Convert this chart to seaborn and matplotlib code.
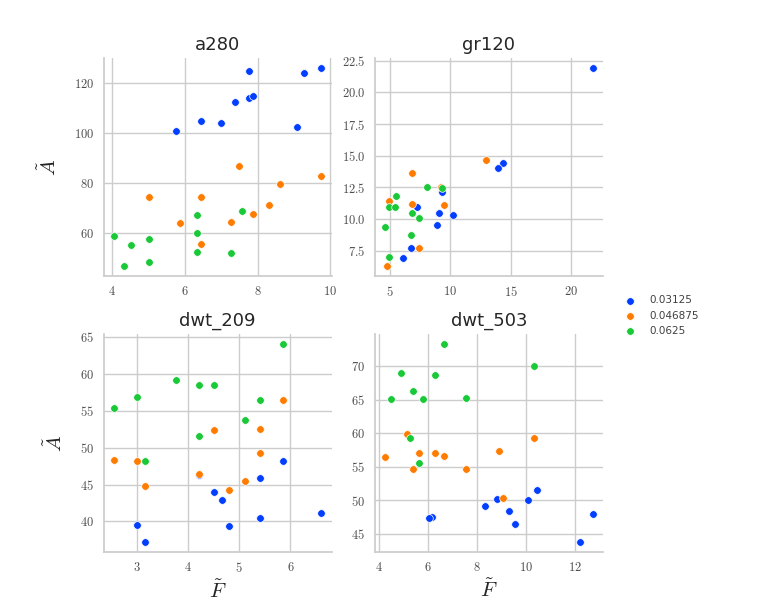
import numpy as np
import pandas as pd
import seaborn as sns
import matplotlib
matplotlib.use("Agg")
import matplotlib.pyplot as plt
from matplotlib.ticker import FuncFormatter, MultipleLocator

# ---------------- data ----------------
panels = ["a280", "gr120", "dwt_209", "dwt_503"]
hue_levels = ["0.03125", "0.046875", "0.0625"]

# a280
a280_F_1 = [7.76, 9.28, 9.75, 7.38, 7.76, 7.86, 6.43, 7.0, 5.76, 9.08]
a280_A_1 = [124.7, 123.9, 126.0, 112.4, 114.1, 114.9, 104.9, 104.0, 101.1, 102.4]
a280_F_2 = [7.48, 9.75, 8.62, 5.0, 6.43, 8.32, 7.86, 5.86, 7.28, 6.43]
a280_A_2 = [86.9, 83.1, 79.6, 74.5, 74.5, 71.3, 67.9, 64.1, 64.4, 55.7]
a280_F_3 = [7.56, 6.33, 6.33, 4.05, 5.0, 4.52, 6.33, 7.28, 5.0, 4.33]
a280_A_3 = [68.9, 67.3, 60.1, 59.1, 57.9, 55.2, 52.7, 52.4, 48.8, 47.1]

# gr120
gr120_F_1 = [21.74, 14.39, 13.96, 9.36, 10.25, 9.11, 7.23, 8.92, 6.8, 6.12]
gr120_A_1 = [21.92, 14.45, 14.0, 12.16, 10.28, 10.5, 10.94, 9.49, 7.67, 6.88]
gr120_F_2 = [12.95, 6.88, 9.25, 4.97, 6.88, 9.47, 7.45, 4.75]
gr120_A_2 = [14.69, 13.66, 12.53, 11.42, 11.18, 11.08, 7.67, 6.3]
gr120_F_3 = [8.13, 9.36, 5.54, 4.97, 5.44, 6.88, 7.45, 4.65, 6.8, 4.97]
gr120_A_3 = [12.53, 12.42, 11.84, 10.94, 10.94, 10.5, 10.05, 9.36, 8.7, 6.99]

# dwt_209
dwt209_F_1 = [5.86, 4.21, 5.4, 4.5, 4.66, 6.6, 5.4, 3.0, 4.81, 3.16]
dwt209_A_1 = [48.2, 46.25, 45.93, 43.98, 42.94, 41.13, 40.41, 39.5, 39.32, 37.24]
dwt209_F_2 = [5.86, 4.5, 5.4, 5.4, 2.56, 3.0, 3.16, 5.11, 4.81, 4.21]
dwt209_A_2 = [56.5, 52.45, 52.55, 49.24, 48.38, 48.2, 44.76, 45.5, 44.3, 46.4]
dwt209_F_3 = [5.86, 3.76, 4.21, 4.5, 3.0, 2.56, 5.4, 5.11, 4.21, 3.16]
dwt209_A_3 = [64.0, 59.2, 58.43, 58.43, 56.9, 55.3, 56.5, 53.8, 51.55, 48.2]

# dwt_503
dwt503_F_1 = [10.44, 8.81, 10.07, 8.31, 12.71, 9.3, 6.16, 6.03, 9.56, 12.21]
dwt503_A_1 = [51.47, 50.23, 49.98, 49.18, 47.94, 48.44, 47.44, 47.29, 46.39, 43.8]
dwt503_F_2 = [5.14, 10.31, 8.91, 5.65, 6.28, 6.66, 4.26, 5.4, 7.54, 9.06]
dwt503_A_2 = [59.8, 59.24, 57.35, 57.0, 57.0, 56.65, 56.4, 54.6, 54.6, 50.33]
dwt503_F_3 = [6.66, 4.9, 6.28, 10.31, 5.4, 4.51, 5.79, 7.54, 5.28, 5.65]
dwt503_A_3 = [73.24, 68.95, 68.7, 70.0, 66.3, 65.07, 65.07, 65.3, 59.24, 55.5]

# tick spacing per panel (x, y)
tick_steps = {"a280": (2, 20), "gr120": (5, 2.5), "dwt_209": (1, 5), "dwt_503": (2, 5)}

series = {
    "a280": [(a280_F_1, a280_A_1), (a280_F_2, a280_A_2), (a280_F_3, a280_A_3)],
    "gr120": [(gr120_F_1, gr120_A_1), (gr120_F_2, gr120_A_2), (gr120_F_3, gr120_A_3)],
    "dwt_209": [(dwt209_F_1, dwt209_A_1), (dwt209_F_2, dwt209_A_2), (dwt209_F_3, dwt209_A_3)],
    "dwt_503": [(dwt503_F_1, dwt503_A_1), (dwt503_F_2, dwt503_A_2), (dwt503_F_3, dwt503_A_3)],
}

rows = []
for p in panels:
    for lvl, (fs, as_) in zip(hue_levels, series[p]):
        for f, a in zip(fs, as_):
            rows.append({"dataset": p, "delta": lvl, "F": f, "A": a})
df = pd.DataFrame(rows)

# ---------------- style ----------------
sns.set_theme(style="whitegrid")
plt.rcParams["mathtext.fontset"] = "cm"
plt.rcParams["font.family"] = ["DejaVu Sans"]

g = sns.FacetGrid(df, col="dataset", col_order=panels, col_wrap=2,
                  hue="delta", hue_order=hue_levels, palette="bright",
                  sharex=False, sharey=False, height=3, aspect=1)
g.map(sns.scatterplot, "F", "A", s=30, edgecolor="white", linewidth=0.5)
g.set_titles("{col_name}", size=13, color=".15")
g.set_axis_labels(r"$\tilde{F}$", r"$\tilde{A}$", fontsize=15)

def fmt1(v, p):
    return f"${v:.1f}$"

def fmtg(v, p):
    return f"${v:g}$"

for name, ax in zip(panels, g.axes.flat):
    xs, ys = tick_steps[name]
    ax.xaxis.set_major_locator(MultipleLocator(xs))
    ax.yaxis.set_major_locator(MultipleLocator(ys))
    ax.tick_params(labelsize=9, labelcolor=".3", length=0, pad=7)
    ax.xaxis.set_major_formatter(FuncFormatter(fmtg))
    if name == "gr120":
        ax.yaxis.set_major_formatter(FuncFormatter(fmt1))
    else:
        ax.yaxis.set_major_formatter(FuncFormatter(fmtg))
    ax.yaxis.labelpad = 10
    ax.xaxis.labelpad = 3
    for s in ["left", "bottom"]:
        ax.spines[s].set_color(".8")

g.add_legend(title="")
g.figure.set_size_inches(7.68, 6.01)
g.figure.subplots_adjust(left=0.135, right=0.785, top=0.903, bottom=0.082,
                         wspace=0.19, hspace=0.27)
sns.move_legend(g, "center left", bbox_to_anchor=(0.795, 0.475), title="",
                frameon=False, fontsize=7.5)
for t in g._legend.get_texts():
    t.set_color(".25")

g.figure.savefig("out.png", dpi=100)
